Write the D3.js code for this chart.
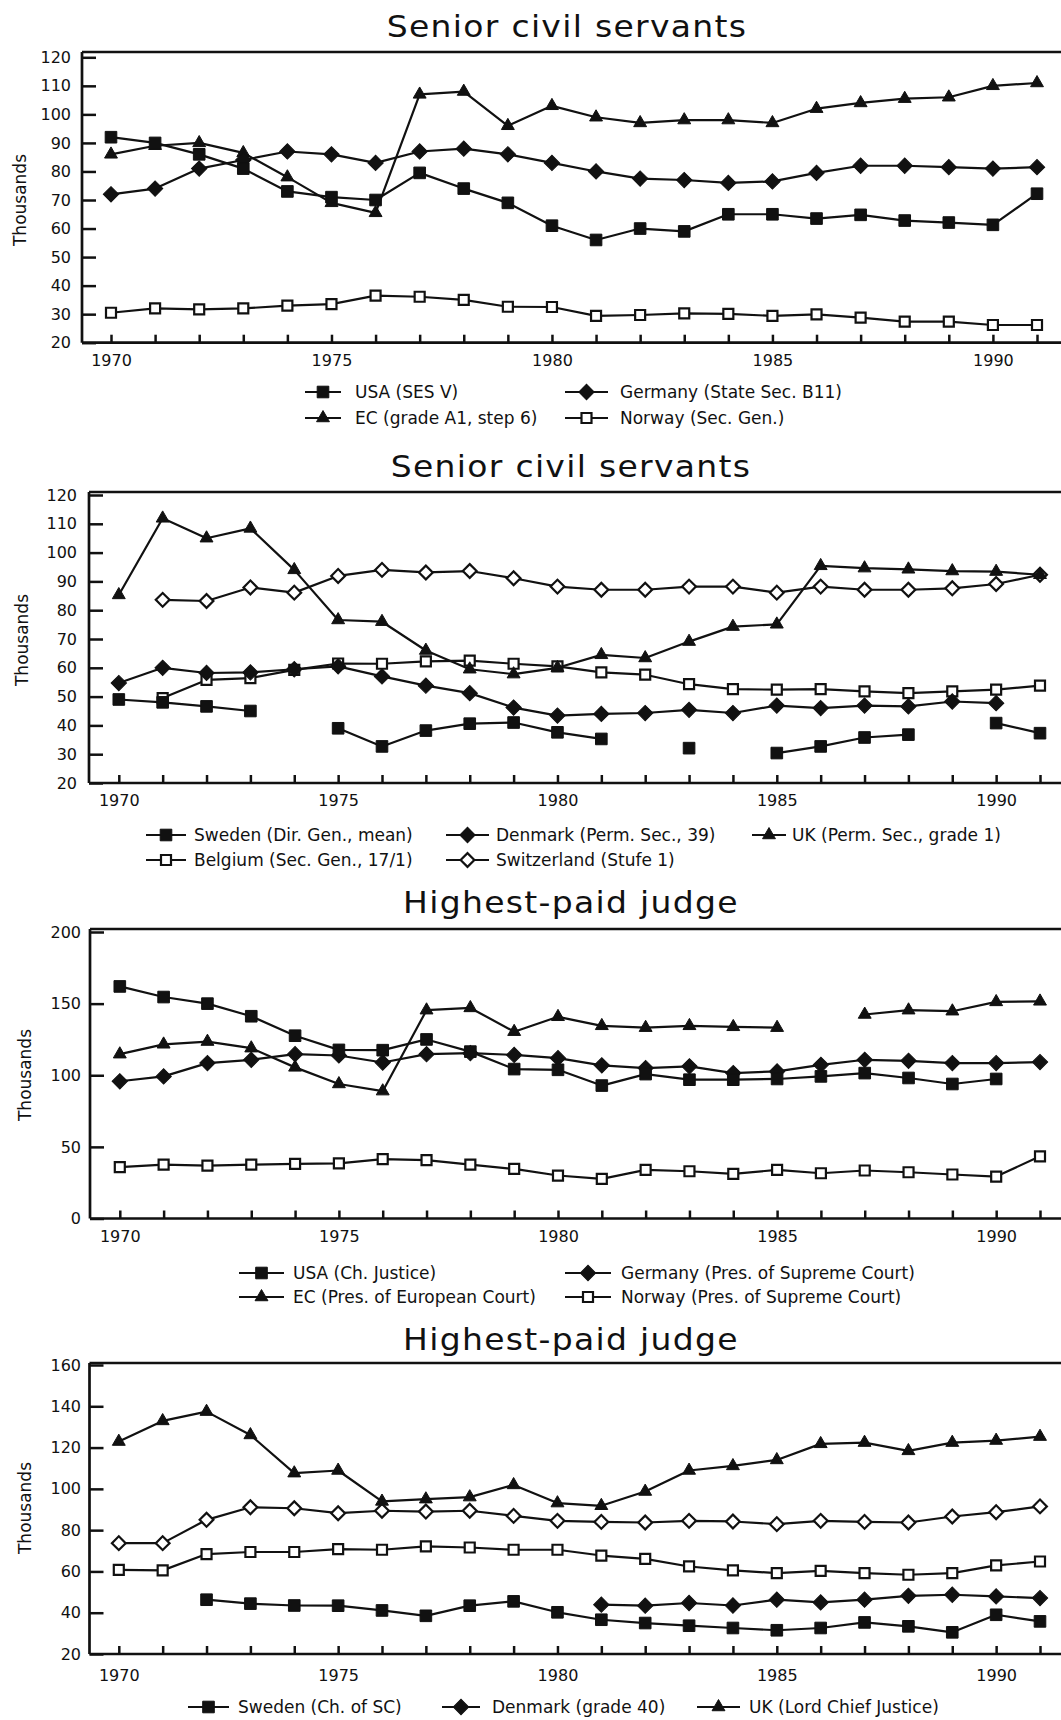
<!DOCTYPE html>
<html>
<head>
<meta charset="utf-8">
<script src="https://cdn.jsdelivr.net/npm/d3@7"></script>
<style>
  body { margin: 0; background: #fff; }
  svg { display: block; }
</style>
</head>
<body>
<svg id="chart" width="1061" height="1720"></svg>
<script>
// ---- Categories and tick labels ----
const years = [1970, 1971, 1972, 1973, 1974, 1975, 1976, 1977, 1978, 1979, 1980,
               1981, 1982, 1983, 1984, 1985, 1986, 1987, 1988, 1989, 1990, 1991];
const yearLabels = [1970, 1975, 1980, 1985, 1990];
const yTicksServants = [20, 30, 40, 50, 60, 70, 80, 90, 100, 110, 120];
const yTicksJudgeA = [0, 50, 100, 150, 200];
const yTicksJudgeB = [20, 40, 60, 80, 100, 120, 140, 160];

const titles = ["Senior civil servants", "Senior civil servants", "Highest-paid judge", "Highest-paid judge"];
const yAxisTitle = "Thousands";

// ---- Senior civil servants (I) ----
const namesServantsA = ["USA (SES V)", "Germany (State Sec. B11)", "EC (grade A1, step 6)", "Norway (Sec. Gen.)"];
const usaSesV = [92, 90, 86, 81, 73, 71, 70, 79.5, 74, 69, 61, 56, 60, 59, 65, 65, 63.5, 64.8, 62.8, 62.1, 61.3, 72.2];
const germanyStateSec = [72, 74, 81, 84, 87, 86, 83, 87, 88, 86, 83, 80, 77.5, 77, 76, 76.5, 79.5, 82, 82, 81.5, 81, 81.5];
const ecGradeA1 = [86, 89, 90, 86.5, 78, 69, 65.5, 107, 108, 96, 103, 99, 97, 98, 98, 97, 102, 104, 105.5, 106, 110, 111];
const norwaySecGen = [30.5, 32, 31.7, 32, 33, 33.5, 36.5, 36.1, 35, 32.6, 32.5, 29.4, 29.7, 30.3, 30.1, 29.4, 29.9, 28.8, 27.4, 27.4, 26.2, 26.2];

// ---- Senior civil servants (II) ----
const namesServantsB = ["Sweden (Dir. Gen., mean)", "Denmark (Perm. Sec., 39)", "UK (Perm. Sec., grade 1)",
                        "Belgium (Sec. Gen., 17/1)", "Switzerland (Stufe 1)"];
const swedenDirGen = [49, 48, 46.6, 45, null, 39, 32.7, 38.2, 40.6, 41, 37.6, 35.3, null, 32.1, null, 30.4, 32.7, 35.8, 36.8, null, 40.8, 37.3];
const denmarkPermSec = [54.7, 60, 58.2, 58.4, 59.5, 60.5, 57, 53.8, 51.2, 46.2, 43.4, 44, 44.3, 45.4, 44.3, 46.9, 46, 46.9, 46.6, 48.3, 47.7, null];
const ukPermSec = [85.3, 111.9, 105, 108.4, 94, 76.6, 76, 66, 59.5, 57.8, 60, 64.5, 63.4, 69.1, 74.3, 75.1, 95.4, 94.6, 94.2, 93.6, 93.4, 92.3];
const belgiumSecGen = [null, 49.5, 55.8, 56.4, 59.3, 61.5, 61.4, 62.2, 62.5, 61.4, 60.5, 58.4, 57.6, 54.3, 52.6, 52.4, 52.6, 51.8, 51.2, 51.8, 52.4, 53.8];
const switzerlandStufe1 = [null, 83.6, 83.2, 87.9, 86.1, 91.9, 94, 93.1, 93.6, 91.1, 88.2, 87.1, 87.1, 88.2, 88.2, 86.1, 88.2, 87.1, 87.1, 87.6, 89.1, 92.3];

// ---- Highest-paid judge (I) ----
const namesJudgeA = ["USA (Ch. Justice)", "Germany (Pres. of Supreme Court)", "EC (Pres. of European Court)", "Norway (Pres. of Supreme Court)"];
const usaChJustice = [162, 154.6, 150, 141.2, 127.6, 117.7, 117.5, 125, 116.5, 104.3, 103.8, 92.8, 100.8, 96.9, 96.9, 97.4, 99.2, 101.5, 98.1, 93.9, 97.4, null];
const germanyPresSC = [95.8, 99.2, 108.5, 110.8, 114.7, 113.8, 108.9, 114.7, 115.4, 114.2, 111.9, 106.9, 105, 106.2, 101.5, 102.7, 107.3, 110.8, 110.1, 108.5, 108.5, 109.2];
const ecPresCourt = [114.7, 121.6, 123.5, 118.9, 105.5, 93.9, 88.9, 145.4, 147, 130.4, 140.8, 134.5, 133.2, 134.5, 133.8, 133.2, null, 142.4, 145.4, 144.7, 151.2, 151.6];
const norwayPresSC = [35.8, 37.6, 36.9, 37.6, 38.1, 38.5, 41.5, 40.8, 37.6, 34.6, 30, 27.7, 33.9, 33, 31.2, 33.9, 31.6, 33.5, 32.3, 30.7, 29.3, 43.4];

// ---- Highest-paid judge (II) ----
const namesJudgeB = ["Sweden (Ch. of SC)", "Denmark (grade 40)", "UK (Lord Chief Justice)", "Belgium", "Switzerland"];
const swedenChSC = [null, null, 46.3, 44.4, 43.5, 43.4, 41.1, 38.5, 43.4, 45.5, 40.2, 36.6, 35, 33.7, 32.6, 31.5, 32.6, 35.3, 33.4, 30.5, 39, 35.8];
const denmarkGrade40 = [null, null, null, null, null, null, null, null, null, null, null, 43.9, 43.4, 44.7, 43.5, 46.3, 45, 46.3, 48.2, 48.7, 47.9, 47.1];
const ukLordChief = [122.9, 132.9, 137.4, 126.1, 107.6, 108.9, 93.9, 95, 96, 101.9, 93.1, 91.8, 98.7, 108.9, 111.1, 114, 121.8, 122.4, 118.4, 122.4, 123.4, 125.3];
const belgiumJudge = [60.8, 60.5, 68.4, 69.4, 69.4, 70.8, 70.5, 72.1, 71.6, 70.5, 70.5, 67.7, 66.1, 62.4, 60.5, 59.2, 60.3, 59.2, 58.4, 59.2, 62.9, 64.8];
const switzerlandJudge = [73.7, 73.7, 85, 91.1, 90.6, 88.2, 89.4, 89, 89.4, 86.9, 84.5, 84, 83.7, 84.5, 84.2, 82.9, 84.5, 84, 83.7, 86.6, 88.7, 91.5];

// ---- Panel layout ----
const INK = "#111";
const FONT = "'DejaVu Sans', Verdana, sans-serif";
const svg = d3.select("#chart");
svg.append("rect").attr("width", 1061).attr("height", 1720).attr("fill", "#fff");

const panels = [
  {
    title: titles[0], titleX: 567, titleY: 37,
    left: 82, top: 52, bottom: 342.7, yTop: 57.3, x0: 111, x1: 1037,
    domain: [20, 120], ticks: yTicksServants, yPad: 11, axisTitleX: 26, axisTitleY: 200, xPad: 12,
    rows: [392, 418],
    cols: [{ l0: 305, l1: 341, t: 355 }, { l0: 565, l1: 608, t: 620 }],
    series: [
      { name: namesServantsA[3], values: norwaySecGen, marker: "squareOpen", row: 1, col: 1 },
      { name: namesServantsA[2], values: ecGradeA1, marker: "triangle", row: 1, col: 0 },
      { name: namesServantsA[1], values: germanyStateSec, marker: "diamondFilled", row: 0, col: 1 },
      { name: namesServantsA[0], values: usaSesV, marker: "squareFilled", row: 0, col: 0 }
    ]
  },
  {
    title: titles[1], titleX: 571, titleY: 477,
    left: 89, top: 492, bottom: 783, yTop: 495, x0: 118.8, x1: 1040,
    domain: [20, 120], ticks: yTicksServants, yPad: 12, axisTitleX: 28, axisTitleY: 640, xPad: 12,
    rows: [835, 860],
    cols: [{ l0: 146, l1: 186, t: 194 }, { l0: 446, l1: 489, t: 496 }, { l0: 752, l1: 786, t: 792 }],
    series: [
      { name: namesServantsB[4], values: switzerlandStufe1, marker: "diamondOpen", row: 1, col: 1 },
      { name: namesServantsB[3], values: belgiumSecGen, marker: "squareOpen", row: 1, col: 0 },
      { name: namesServantsB[1], values: denmarkPermSec, marker: "diamondFilled", row: 0, col: 1 },
      { name: namesServantsB[0], values: swedenDirGen, marker: "squareFilled", row: 0, col: 0 },
      { name: namesServantsB[2], values: ukPermSec, marker: "triangle", row: 0, col: 2 }
    ]
  },
  {
    title: titles[2], titleX: 571, titleY: 913,
    left: 90, top: 929, bottom: 1218.5, yTop: 932, x0: 119.8, x1: 1040,
    domain: [0, 200], ticks: yTicksJudgeA, yPad: 9, axisTitleX: 31, axisTitleY: 1075, xPad: 12,
    rows: [1273, 1297],
    cols: [{ l0: 239, l1: 284, t: 293 }, { l0: 565, l1: 611, t: 621 }],
    series: [
      { name: namesJudgeA[3], values: norwayPresSC, marker: "squareOpen", row: 1, col: 1 },
      { name: namesJudgeA[2], values: ecPresCourt, marker: "triangle", row: 1, col: 0 },
      { name: namesJudgeA[1], values: germanyPresSC, marker: "diamondFilled", row: 0, col: 1 },
      { name: namesJudgeA[0], values: usaChJustice, marker: "squareFilled", row: 0, col: 0 }
    ]
  },
  {
    title: titles[3], titleX: 571, titleY: 1350,
    left: 89.5, top: 1363, bottom: 1654, yTop: 1365, x0: 118.8, x1: 1040,
    domain: [20, 160], ticks: yTicksJudgeB, yPad: 8.5, axisTitleX: 31, axisTitleY: 1508, xPad: 16,
    rows: [1707],
    cols: [{ l0: 188, l1: 229, t: 238 }, { l0: 442, l1: 480, t: 492 }, { l0: 697, l1: 740, t: 749 }],
    series: [
      { name: namesJudgeB[4], values: switzerlandJudge, marker: "diamondOpen", row: null },
      { name: namesJudgeB[3], values: belgiumJudge, marker: "squareOpen", row: null },
      { name: namesJudgeB[0], values: swedenChSC, marker: "squareFilled", row: 0, col: 0 },
      { name: namesJudgeB[1], values: denmarkGrade40, marker: "diamondFilled", row: 0, col: 1 },
      { name: namesJudgeB[2], values: ukLordChief, marker: "triangle", row: 0, col: 2 }
    ]
  }
];

// Marker shapes: filled/open squares, filled/open diamonds, filled triangles
function addMarker(g, type, cx, cy) {
  let path, fill = INK, stroke = INK, sw = 1, rot = 0;
  if (type === "squareFilled") { path = d3.symbol(d3.symbolSquare, 135)(); }
  else if (type === "squareOpen") { path = d3.symbol(d3.symbolSquare, 100)(); fill = "#fff"; sw = 2.2; }
  else if (type === "diamondFilled") { path = d3.symbol(d3.symbolSquare, 118)(); rot = 45; }
  else if (type === "diamondOpen") { path = d3.symbol(d3.symbolSquare, 95)(); rot = 45; fill = "#fff"; sw = 2.2; }
  else { path = d3.symbol(d3.symbolTriangle, 72)(); }
  g.append("path")
    .attr("d", path)
    .attr("transform", `translate(${cx},${cy}) rotate(${rot})`)
    .attr("fill", fill)
    .attr("stroke", stroke)
    .attr("stroke-width", sw)
    .attr("stroke-linejoin", "miter");
}

panels.forEach(p => {
  const g = svg.append("g");
  const x = d3.scaleLinear().domain([years[0], years[years.length - 1]]).range([p.x0, p.x1]);
  const y = d3.scaleLinear().domain(p.domain).range([p.bottom, p.yTop]);

  // Title (wide sans face)
  g.append("text")
    .attr("transform", `translate(${p.titleX},${p.titleY}) scale(1.1,1)`)
    .attr("text-anchor", "middle")
    .attr("font-family", FONT).attr("font-size", 30)
    .attr("letter-spacing", 1.2)
    .attr("fill", INK)
    .text(p.title);

  // Y axis (ticks point inward)
  const yAxis = g.append("g")
    .attr("transform", `translate(${p.left},0)`)
    .call(d3.axisLeft(y).tickValues(p.ticks).tickSize(-14).tickPadding(p.yPad).tickFormat(d3.format("d")));
  yAxis.select(".domain").remove();
  yAxis.selectAll(".tick line").attr("stroke", INK).attr("stroke-width", 2.5);
  yAxis.selectAll(".tick text").attr("font-family", FONT).attr("font-size", 16).attr("fill", INK);

  // X axis (ticks every year, labels every five)
  const xAxis = g.append("g")
    .attr("transform", `translate(0,${p.bottom})`)
    .call(d3.axisBottom(x).tickValues(years).tickSize(-8).tickPadding(p.xPad)
      .tickFormat(d => yearLabels.includes(d) ? String(d) : ""));
  xAxis.select(".domain").remove();
  xAxis.selectAll(".tick line").attr("stroke", INK).attr("stroke-width", 2.5);
  xAxis.selectAll(".tick text").attr("font-family", FONT).attr("font-size", 16).attr("fill", INK);

  // Frame: top rule, left axis, bottom axis (open to the right edge)
  g.append("path")
    .attr("d", `M${p.left},${p.top}H1061M${p.left},${p.top}V${p.bottom}M${p.left},${p.bottom}H1061`)
    .attr("fill", "none").attr("stroke", INK).attr("stroke-width", 2.7);

  // Axis title
  g.append("text")
    .attr("transform", `translate(${p.axisTitleX},${p.axisTitleY}) rotate(-90)`)
    .attr("text-anchor", "middle")
    .attr("font-family", FONT).attr("font-size", 17)
    .attr("fill", INK)
    .text(yAxisTitle);

  // Series lines and markers
  const line = d3.line()
    .defined(d => d.v !== null)
    .x(d => x(d.year)).y(d => y(d.v));

  p.series.forEach(s => {
    const pts = years.map((yr, i) => ({ year: yr, v: s.values[i] }));
    g.append("path")
      .attr("d", line(pts))
      .attr("fill", "none").attr("stroke", INK).attr("stroke-width", 2.2)
      .attr("stroke-linejoin", "round");
    pts.filter(d => d.v !== null).forEach(d => addMarker(g, s.marker, x(d.year), y(d.v)));
  });

  // Legend
  p.series.filter(s => s.row !== null).forEach(s => {
    const c = p.cols[s.col];
    const ry = p.rows[s.row];
    g.append("line")
      .attr("x1", c.l0).attr("x2", c.l1).attr("y1", ry).attr("y2", ry)
      .attr("stroke", INK).attr("stroke-width", 2);
    addMarker(g, s.marker, (c.l0 + c.l1) / 2, ry);
    g.append("text")
      .attr("x", c.t).attr("y", ry + 6)
      .attr("font-family", FONT).attr("font-size", 17)
      .attr("fill", INK)
      .text(s.name);
  });
});
</script>
</body>
</html>
